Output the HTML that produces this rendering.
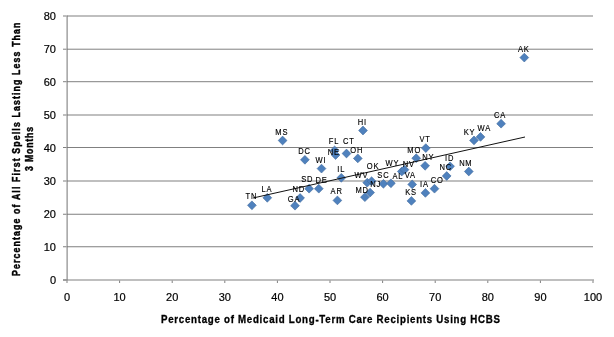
<!DOCTYPE html><html><head><meta charset="utf-8"><style>html,body{margin:0;padding:0;background:#fff;width:614px;height:337px;overflow:hidden}svg{display:block;will-change:transform}text{font-family:"Liberation Sans",sans-serif}</style></head><body>
<svg width="614" height="337" viewBox="0 0 614 337">
<rect width="614" height="337" fill="#fff"/>
<rect x="67" y="246.25" width="526.00" height="1" fill="#808080"/>
<rect x="67" y="213.75" width="526.00" height="1" fill="#808080"/>
<rect x="67" y="180.50" width="526.00" height="1" fill="#808080"/>
<rect x="67" y="147.00" width="526.00" height="1" fill="#808080"/>
<rect x="67" y="114.50" width="526.00" height="1" fill="#808080"/>
<rect x="67" y="81.20" width="526.00" height="1" fill="#808080"/>
<rect x="67" y="48.70" width="526.00" height="1" fill="#808080"/>
<rect x="67" y="15.50" width="526.00" height="1" fill="#808080"/>
<rect x="66.59" y="15.50" width="1" height="265.00" fill="#747474"/>
<rect x="63" y="279.50" width="531.00" height="1" fill="#808080"/>
<rect x="63" y="279.50" width="3.6" height="1" fill="#808080"/>
<rect x="63" y="246.25" width="3.6" height="1" fill="#808080"/>
<rect x="63" y="213.75" width="3.6" height="1" fill="#808080"/>
<rect x="63" y="180.50" width="3.6" height="1" fill="#808080"/>
<rect x="63" y="147.00" width="3.6" height="1" fill="#808080"/>
<rect x="63" y="114.50" width="3.6" height="1" fill="#808080"/>
<rect x="63" y="81.20" width="3.6" height="1" fill="#808080"/>
<rect x="63" y="48.70" width="3.6" height="1" fill="#808080"/>
<rect x="63" y="15.50" width="3.6" height="1" fill="#808080"/>
<rect x="66.50" y="280.50" width="1" height="2.5" fill="#808080"/>
<rect x="119.10" y="280.50" width="1" height="2.5" fill="#808080"/>
<rect x="171.70" y="280.50" width="1" height="2.5" fill="#808080"/>
<rect x="224.30" y="280.50" width="1" height="2.5" fill="#808080"/>
<rect x="276.90" y="280.50" width="1" height="2.5" fill="#808080"/>
<rect x="329.50" y="280.50" width="1" height="2.5" fill="#808080"/>
<rect x="382.10" y="280.50" width="1" height="2.5" fill="#808080"/>
<rect x="434.70" y="280.50" width="1" height="2.5" fill="#808080"/>
<rect x="487.30" y="280.50" width="1" height="2.5" fill="#808080"/>
<rect x="539.90" y="280.50" width="1" height="2.5" fill="#808080"/>
<rect x="592.50" y="280.50" width="1" height="2.5" fill="#808080"/>
<text x="56" y="284.00" font-size="11" text-anchor="end" fill="#000" stroke="#000" stroke-width="0.2">0</text>
<text x="56" y="251.00" font-size="11" text-anchor="end" fill="#000" stroke="#000" stroke-width="0.2">10</text>
<text x="56" y="218.00" font-size="11" text-anchor="end" fill="#000" stroke="#000" stroke-width="0.2">20</text>
<text x="56" y="185.00" font-size="11" text-anchor="end" fill="#000" stroke="#000" stroke-width="0.2">30</text>
<text x="56" y="152.00" font-size="11" text-anchor="end" fill="#000" stroke="#000" stroke-width="0.2">40</text>
<text x="56" y="119.00" font-size="11" text-anchor="end" fill="#000" stroke="#000" stroke-width="0.2">50</text>
<text x="56" y="86.00" font-size="11" text-anchor="end" fill="#000" stroke="#000" stroke-width="0.2">60</text>
<text x="56" y="53.00" font-size="11" text-anchor="end" fill="#000" stroke="#000" stroke-width="0.2">70</text>
<text x="56" y="20.00" font-size="11" text-anchor="end" fill="#000" stroke="#000" stroke-width="0.2">80</text>
<text x="67.00" y="301" font-size="11" text-anchor="middle" fill="#000" stroke="#000" stroke-width="0.2">0</text>
<text x="119.60" y="301" font-size="11" text-anchor="middle" fill="#000" stroke="#000" stroke-width="0.2">10</text>
<text x="172.20" y="301" font-size="11" text-anchor="middle" fill="#000" stroke="#000" stroke-width="0.2">20</text>
<text x="224.80" y="301" font-size="11" text-anchor="middle" fill="#000" stroke="#000" stroke-width="0.2">30</text>
<text x="277.40" y="301" font-size="11" text-anchor="middle" fill="#000" stroke="#000" stroke-width="0.2">40</text>
<text x="330.00" y="301" font-size="11" text-anchor="middle" fill="#000" stroke="#000" stroke-width="0.2">50</text>
<text x="382.60" y="301" font-size="11" text-anchor="middle" fill="#000" stroke="#000" stroke-width="0.2">60</text>
<text x="435.20" y="301" font-size="11" text-anchor="middle" fill="#000" stroke="#000" stroke-width="0.2">70</text>
<text x="487.80" y="301" font-size="11" text-anchor="middle" fill="#000" stroke="#000" stroke-width="0.2">80</text>
<text x="540.40" y="301" font-size="11" text-anchor="middle" fill="#000" stroke="#000" stroke-width="0.2">90</text>
<text x="593.00" y="301" font-size="11" text-anchor="middle" fill="#000" stroke="#000" stroke-width="0.2">100</text>
<path d="M251.90 200.90L256.30 205.30L251.90 209.70L247.50 205.30Z" fill="#4f81bd" stroke="#3f6a9c" stroke-width="0.6"/>
<path d="M267.30 193.40L271.70 197.80L267.30 202.20L262.90 197.80Z" fill="#4f81bd" stroke="#3f6a9c" stroke-width="0.6"/>
<path d="M295.00 201.30L299.40 205.70L295.00 210.10L290.60 205.70Z" fill="#4f81bd" stroke="#3f6a9c" stroke-width="0.6"/>
<path d="M300.10 193.60L304.50 198.00L300.10 202.40L295.70 198.00Z" fill="#4f81bd" stroke="#3f6a9c" stroke-width="0.6"/>
<path d="M309.10 184.30L313.50 188.70L309.10 193.10L304.70 188.70Z" fill="#4f81bd" stroke="#3f6a9c" stroke-width="0.6"/>
<path d="M318.80 184.30L323.20 188.70L318.80 193.10L314.40 188.70Z" fill="#4f81bd" stroke="#3f6a9c" stroke-width="0.6"/>
<path d="M282.60 136.10L287.00 140.50L282.60 144.90L278.20 140.50Z" fill="#4f81bd" stroke="#3f6a9c" stroke-width="0.6"/>
<path d="M304.90 155.40L309.30 159.80L304.90 164.20L300.50 159.80Z" fill="#4f81bd" stroke="#3f6a9c" stroke-width="0.6"/>
<path d="M321.50 164.20L325.90 168.60L321.50 173.00L317.10 168.60Z" fill="#4f81bd" stroke="#3f6a9c" stroke-width="0.6"/>
<path d="M334.60 146.00L339.00 150.40L334.60 154.80L330.20 150.40Z" fill="#4f81bd" stroke="#3f6a9c" stroke-width="0.6"/>
<path d="M335.60 150.60L340.00 155.00L335.60 159.40L331.20 155.00Z" fill="#4f81bd" stroke="#3f6a9c" stroke-width="0.6"/>
<path d="M346.50 149.10L350.90 153.50L346.50 157.90L342.10 153.50Z" fill="#4f81bd" stroke="#3f6a9c" stroke-width="0.6"/>
<path d="M357.80 154.00L362.20 158.40L357.80 162.80L353.40 158.40Z" fill="#4f81bd" stroke="#3f6a9c" stroke-width="0.6"/>
<path d="M363.00 126.10L367.40 130.50L363.00 134.90L358.60 130.50Z" fill="#4f81bd" stroke="#3f6a9c" stroke-width="0.6"/>
<path d="M341.30 173.40L345.70 177.80L341.30 182.20L336.90 177.80Z" fill="#4f81bd" stroke="#3f6a9c" stroke-width="0.6"/>
<path d="M337.40 196.00L341.80 200.40L337.40 204.80L333.00 200.40Z" fill="#4f81bd" stroke="#3f6a9c" stroke-width="0.6"/>
<path d="M367.20 178.30L371.60 182.70L367.20 187.10L362.80 182.70Z" fill="#4f81bd" stroke="#3f6a9c" stroke-width="0.6"/>
<path d="M371.60 176.80L376.00 181.20L371.60 185.60L367.20 181.20Z" fill="#4f81bd" stroke="#3f6a9c" stroke-width="0.6"/>
<path d="M370.10 188.20L374.50 192.60L370.10 197.00L365.70 192.60Z" fill="#4f81bd" stroke="#3f6a9c" stroke-width="0.6"/>
<path d="M364.90 192.80L369.30 197.20L364.90 201.60L360.50 197.20Z" fill="#4f81bd" stroke="#3f6a9c" stroke-width="0.6"/>
<path d="M383.40 179.40L387.80 183.80L383.40 188.20L379.00 183.80Z" fill="#4f81bd" stroke="#3f6a9c" stroke-width="0.6"/>
<path d="M390.90 178.90L395.30 183.30L390.90 187.70L386.50 183.30Z" fill="#4f81bd" stroke="#3f6a9c" stroke-width="0.6"/>
<path d="M401.80 167.10L406.20 171.50L401.80 175.90L397.40 171.50Z" fill="#4f81bd" stroke="#3f6a9c" stroke-width="0.6"/>
<path d="M404.50 165.30L408.90 169.70L404.50 174.10L400.10 169.70Z" fill="#4f81bd" stroke="#3f6a9c" stroke-width="0.6"/>
<path d="M412.20 180.00L416.60 184.40L412.20 188.80L407.80 184.40Z" fill="#4f81bd" stroke="#3f6a9c" stroke-width="0.6"/>
<path d="M411.40 196.50L415.80 200.90L411.40 205.30L407.00 200.90Z" fill="#4f81bd" stroke="#3f6a9c" stroke-width="0.6"/>
<path d="M416.20 153.80L420.60 158.20L416.20 162.60L411.80 158.20Z" fill="#4f81bd" stroke="#3f6a9c" stroke-width="0.6"/>
<path d="M425.80 143.70L430.20 148.10L425.80 152.50L421.40 148.10Z" fill="#4f81bd" stroke="#3f6a9c" stroke-width="0.6"/>
<path d="M425.10 161.40L429.50 165.80L425.10 170.20L420.70 165.80Z" fill="#4f81bd" stroke="#3f6a9c" stroke-width="0.6"/>
<path d="M425.40 188.50L429.80 192.90L425.40 197.30L421.00 192.90Z" fill="#4f81bd" stroke="#3f6a9c" stroke-width="0.6"/>
<path d="M434.50 184.30L438.90 188.70L434.50 193.10L430.10 188.70Z" fill="#4f81bd" stroke="#3f6a9c" stroke-width="0.6"/>
<path d="M446.70 171.60L451.10 176.00L446.70 180.40L442.30 176.00Z" fill="#4f81bd" stroke="#3f6a9c" stroke-width="0.6"/>
<path d="M450.10 161.90L454.50 166.30L450.10 170.70L445.70 166.30Z" fill="#4f81bd" stroke="#3f6a9c" stroke-width="0.6"/>
<path d="M468.80 167.10L473.20 171.50L468.80 175.90L464.40 171.50Z" fill="#4f81bd" stroke="#3f6a9c" stroke-width="0.6"/>
<path d="M474.00 136.00L478.40 140.40L474.00 144.80L469.60 140.40Z" fill="#4f81bd" stroke="#3f6a9c" stroke-width="0.6"/>
<path d="M480.50 132.50L484.90 136.90L480.50 141.30L476.10 136.90Z" fill="#4f81bd" stroke="#3f6a9c" stroke-width="0.6"/>
<path d="M501.10 119.30L505.50 123.70L501.10 128.10L496.70 123.70Z" fill="#4f81bd" stroke="#3f6a9c" stroke-width="0.6"/>
<path d="M524.30 53.20L528.70 57.60L524.30 62.00L519.90 57.60Z" fill="#4f81bd" stroke="#3f6a9c" stroke-width="0.6"/>
<line x1="253" y1="198" x2="525" y2="137" stroke="#111" stroke-width="1"/>
<text transform="translate(251.00,199.00) scale(0.86,1)" font-size="8.8" text-anchor="middle" letter-spacing="0.9" dx="0.45" fill="#000" stroke="#000" stroke-width="0.15">TN</text>
<text transform="translate(266.60,191.80) scale(0.86,1)" font-size="8.8" text-anchor="middle" letter-spacing="0.9" dx="0.45" fill="#000" stroke="#000" stroke-width="0.15">LA</text>
<text transform="translate(293.70,201.70) scale(0.86,1)" font-size="8.8" text-anchor="middle" letter-spacing="0.9" dx="0.45" fill="#000" stroke="#000" stroke-width="0.15">GA</text>
<text transform="translate(298.40,192.30) scale(0.86,1)" font-size="8.8" text-anchor="middle" letter-spacing="0.9" dx="0.45" fill="#000" stroke="#000" stroke-width="0.15">ND</text>
<text transform="translate(306.90,182.30) scale(0.86,1)" font-size="8.8" text-anchor="middle" letter-spacing="0.9" dx="0.45" fill="#000" stroke="#000" stroke-width="0.15">SD</text>
<text transform="translate(321.20,183.00) scale(0.86,1)" font-size="8.8" text-anchor="middle" letter-spacing="0.9" dx="0.45" fill="#000" stroke="#000" stroke-width="0.15">DE</text>
<text transform="translate(281.40,134.80) scale(0.86,1)" font-size="8.8" text-anchor="middle" letter-spacing="0.9" dx="0.45" fill="#000" stroke="#000" stroke-width="0.15">MS</text>
<text transform="translate(304.10,154.10) scale(0.86,1)" font-size="8.8" text-anchor="middle" letter-spacing="0.9" dx="0.45" fill="#000" stroke="#000" stroke-width="0.15">DC</text>
<text transform="translate(320.50,162.70) scale(0.86,1)" font-size="8.8" text-anchor="middle" letter-spacing="0.9" dx="0.45" fill="#000" stroke="#000" stroke-width="0.15">WI</text>
<text transform="translate(333.60,144.00) scale(0.86,1)" font-size="8.8" text-anchor="middle" letter-spacing="0.9" dx="0.45" fill="#000" stroke="#000" stroke-width="0.15">FL</text>
<text transform="translate(333.40,154.60) scale(0.86,1)" font-size="8.8" text-anchor="middle" letter-spacing="0.9" dx="0.45" fill="#000" stroke="#000" stroke-width="0.15">NE</text>
<text transform="translate(348.40,144.20) scale(0.86,1)" font-size="8.8" text-anchor="middle" letter-spacing="0.9" dx="0.45" fill="#000" stroke="#000" stroke-width="0.15">CT</text>
<text transform="translate(356.30,153.30) scale(0.86,1)" font-size="8.8" text-anchor="middle" letter-spacing="0.9" dx="0.45" fill="#000" stroke="#000" stroke-width="0.15">OH</text>
<text transform="translate(362.00,125.10) scale(0.86,1)" font-size="8.8" text-anchor="middle" letter-spacing="0.9" dx="0.45" fill="#000" stroke="#000" stroke-width="0.15">HI</text>
<text transform="translate(340.80,172.00) scale(0.86,1)" font-size="8.8" text-anchor="middle" letter-spacing="0.9" dx="0.45" fill="#000" stroke="#000" stroke-width="0.15">IL</text>
<text transform="translate(336.20,193.80) scale(0.86,1)" font-size="8.8" text-anchor="middle" letter-spacing="0.9" dx="0.45" fill="#000" stroke="#000" stroke-width="0.15">AR</text>
<text transform="translate(361.00,178.00) scale(0.86,1)" font-size="8.8" text-anchor="middle" letter-spacing="0.9" dx="0.45" fill="#000" stroke="#000" stroke-width="0.15">WV</text>
<text transform="translate(372.70,168.90) scale(0.86,1)" font-size="8.8" text-anchor="middle" letter-spacing="0.9" dx="0.45" fill="#000" stroke="#000" stroke-width="0.15">OK</text>
<text transform="translate(383.00,178.00) scale(0.86,1)" font-size="8.8" text-anchor="middle" letter-spacing="0.9" dx="0.45" fill="#000" stroke="#000" stroke-width="0.15">SC</text>
<text transform="translate(375.20,186.60) scale(0.86,1)" font-size="8.8" text-anchor="middle" letter-spacing="0.9" dx="0.45" fill="#000" stroke="#000" stroke-width="0.15">NJ</text>
<text transform="translate(361.80,193.00) scale(0.86,1)" font-size="8.8" text-anchor="middle" letter-spacing="0.9" dx="0.45" fill="#000" stroke="#000" stroke-width="0.15">MD</text>
<text transform="translate(397.40,178.50) scale(0.86,1)" font-size="8.8" text-anchor="middle" letter-spacing="0.9" dx="0.45" fill="#000" stroke="#000" stroke-width="0.15">AL</text>
<text transform="translate(392.00,165.60) scale(0.86,1)" font-size="8.8" text-anchor="middle" letter-spacing="0.9" dx="0.45" fill="#000" stroke="#000" stroke-width="0.15">WY</text>
<text transform="translate(408.50,166.80) scale(0.86,1)" font-size="8.8" text-anchor="middle" letter-spacing="0.9" dx="0.45" fill="#000" stroke="#000" stroke-width="0.15">NV</text>
<text transform="translate(410.00,177.60) scale(0.86,1)" font-size="8.8" text-anchor="middle" letter-spacing="0.9" dx="0.45" fill="#000" stroke="#000" stroke-width="0.15">VA</text>
<text transform="translate(410.70,194.70) scale(0.86,1)" font-size="8.8" text-anchor="middle" letter-spacing="0.9" dx="0.45" fill="#000" stroke="#000" stroke-width="0.15">KS</text>
<text transform="translate(413.80,153.20) scale(0.86,1)" font-size="8.8" text-anchor="middle" letter-spacing="0.9" dx="0.45" fill="#000" stroke="#000" stroke-width="0.15">MO</text>
<text transform="translate(424.60,142.00) scale(0.86,1)" font-size="8.8" text-anchor="middle" letter-spacing="0.9" dx="0.45" fill="#000" stroke="#000" stroke-width="0.15">VT</text>
<text transform="translate(427.90,159.80) scale(0.86,1)" font-size="8.8" text-anchor="middle" letter-spacing="0.9" dx="0.45" fill="#000" stroke="#000" stroke-width="0.15">NY</text>
<text transform="translate(424.00,186.60) scale(0.86,1)" font-size="8.8" text-anchor="middle" letter-spacing="0.9" dx="0.45" fill="#000" stroke="#000" stroke-width="0.15">IA</text>
<text transform="translate(436.90,183.00) scale(0.86,1)" font-size="8.8" text-anchor="middle" letter-spacing="0.9" dx="0.45" fill="#000" stroke="#000" stroke-width="0.15">CO</text>
<text transform="translate(445.40,170.00) scale(0.86,1)" font-size="8.8" text-anchor="middle" letter-spacing="0.9" dx="0.45" fill="#000" stroke="#000" stroke-width="0.15">NC</text>
<text transform="translate(449.20,161.20) scale(0.86,1)" font-size="8.8" text-anchor="middle" letter-spacing="0.9" dx="0.45" fill="#000" stroke="#000" stroke-width="0.15">ID</text>
<text transform="translate(465.40,166.00) scale(0.86,1)" font-size="8.8" text-anchor="middle" letter-spacing="0.9" dx="0.45" fill="#000" stroke="#000" stroke-width="0.15">NM</text>
<text transform="translate(469.10,134.60) scale(0.86,1)" font-size="8.8" text-anchor="middle" letter-spacing="0.9" dx="0.45" fill="#000" stroke="#000" stroke-width="0.15">KY</text>
<text transform="translate(483.90,130.50) scale(0.86,1)" font-size="8.8" text-anchor="middle" letter-spacing="0.9" dx="0.45" fill="#000" stroke="#000" stroke-width="0.15">WA</text>
<text transform="translate(499.70,117.80) scale(0.86,1)" font-size="8.8" text-anchor="middle" letter-spacing="0.9" dx="0.45" fill="#000" stroke="#000" stroke-width="0.15">CA</text>
<text transform="translate(523.30,52.00) scale(0.86,1)" font-size="8.8" text-anchor="middle" letter-spacing="0.9" dx="0.45" fill="#000" stroke="#000" stroke-width="0.15">AK</text>
<text transform="translate(330.5,322.7) scale(0.97,1)" font-size="10" font-weight="bold" text-anchor="middle" textLength="349.48" lengthAdjust="spacing" fill="#000" stroke="#000" stroke-width="0.3">Percentage of Medicaid Long-Term Care Recipients Using HCBS</text>
<text transform="translate(20,149.3) rotate(-90) scale(0.87,1)" font-size="10" font-weight="bold" text-anchor="middle" textLength="291.26" lengthAdjust="spacing" fill="#000" stroke="#000" stroke-width="0.45">Percentage of All First Spells Lasting Less Than</text>
<text transform="translate(32.5,149) rotate(-90) scale(0.87,1)" font-size="10" font-weight="bold" text-anchor="middle" textLength="50.57" lengthAdjust="spacing" fill="#000" stroke="#000" stroke-width="0.45">3 Months</text>
</svg></body></html>
